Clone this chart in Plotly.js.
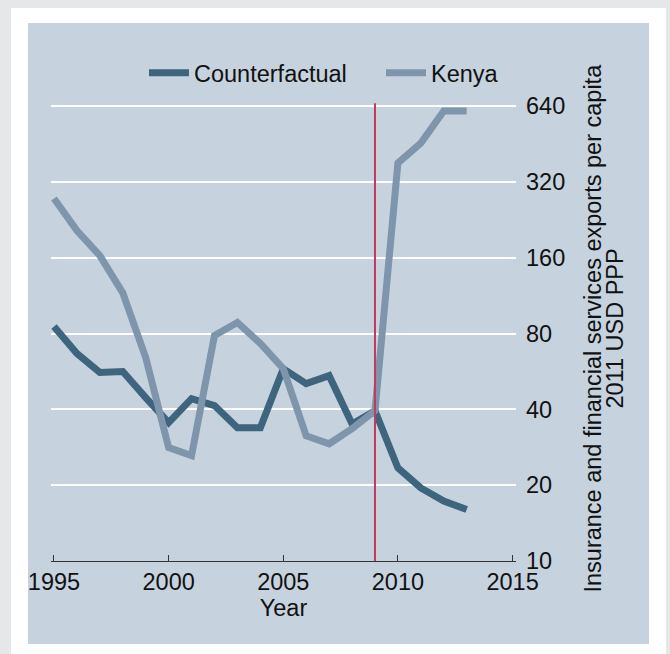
<!DOCTYPE html>
<html>
<head>
<meta charset="utf-8">
<script src="https://cdn.plot.ly/plotly-3.0.1.min.js"></script>
<style>
  html, body { margin: 0; padding: 0; width: 670px; height: 654px; overflow: hidden; background: #e6e7e9; }
  #frame { position: absolute; left: 11px; top: 8px; width: 655px; height: 646px; background: #ffffff; }
  #chart { position: absolute; left: 28px; top: 23px; width: 621px; height: 621px; }
</style>
</head>
<body>
<div id="frame"></div>
<div id="chart"></div>
<script>
// Insurance and financial services exports per capita, 2011 USD PPP
const years = [1995, 1996, 1997, 1998, 1999, 2000, 2001, 2002, 2003, 2004,
               2005, 2006, 2007, 2008, 2009, 2010, 2011, 2012, 2013];
const counterfactual = [85.3, 66.6, 56.0, 56.5, 44.5, 35.4, 44.1, 41.4, 33.8, 33.8,
                        58.0, 50.6, 54.4, 35.0, 39.5, 23.4, 19.5, 17.3, 16.0];
const kenya = [275, 205, 163, 116, 64.2, 28.2, 26.2, 78.5, 88.5, 73.0,
               58.0, 31.4, 29.2, 33.5, 39.5, 380, 456, 611, 611];
const xTickVals = [1995, 2000, 2005, 2010, 2015];
const yTickVals = [10, 20, 40, 80, 160, 320, 640];
const yTickText = ['10', '20', '40', '80', '160', '320', '640'];
const treatmentYear = 2009;

const FONT = 'Liberation Sans, Arial, Helvetica, sans-serif';
const FS = 23.5;
const TXT = '#111111';
const BG = '#c6d3df';

const traces = [
  {
    x: years, y: counterfactual, name: 'Counterfactual',
    type: 'scatter', mode: 'lines', legend: 'legend',
    line: { color: '#3f647e', width: 7 }
  },
  {
    x: years, y: kenya, name: 'Kenya',
    type: 'scatter', mode: 'lines', legend: 'legend2',
    line: { color: '#7f95ab', width: 7 }
  }
];

// one legend box per series so each entry sits on the same top row
function legendBox(xPos) {
  return {
    orientation: 'h', x: xPos, xanchor: 'left', y: 1.061, yanchor: 'middle',
    bgcolor: 'rgba(0,0,0,0)', borderwidth: 0, itemwidth: 40,
    font: { family: FONT, size: FS, color: TXT }
  };
}

const layout = {
  width: 621, height: 621,
  paper_bgcolor: BG, plot_bgcolor: BG,
  margin: { l: 23, r: 133, t: 78, b: 83, pad: 0 },
  font: { family: FONT, size: FS, color: TXT },
  showlegend: true,
  legend: legendBox((144 - 28 - 23) / 465),
  legend2: legendBox((381 - 28 - 23) / 465),
  xaxis: {
    range: [1994.87, 2015.15], tickvals: xTickVals, ticks: 'inside', ticklen: 6,
    tickwidth: 1, tickcolor: '#333333', showline: true, linecolor: '#333333', linewidth: 1,
    showgrid: false, zeroline: false, automargin: false, ticklabeloverflow: 'allow',
    tickfont: { family: FONT, size: FS, color: TXT },
    title: { text: 'Year', font: { family: FONT, size: FS, color: TXT }, standoff: 0 }
  },
  yaxis: {
    type: 'log', range: [1, 2.826], side: 'right',
    tickvals: yTickVals, ticktext: yTickText, ticks: '',
    showline: false, zeroline: false, showgrid: true, gridcolor: '#ffffff', gridwidth: 2,
    automargin: false, ticklabelstandoff: 9, ticklabeloverflow: 'allow',
    tickfont: { family: FONT, size: FS, color: TXT }
  },
  annotations: [
    {
      text: 'Insurance and financial services exports per capita',
      xref: 'paper', yref: 'paper', x: 1.1656, y: 0.5054, textangle: -90,
      xanchor: 'center', yanchor: 'middle', showarrow: false,
      font: { family: FONT, size: FS, color: TXT }
    },
    {
      text: '2011 USD PPP',
      xref: 'paper', yref: 'paper', x: 1.2129, y: 0.5054, textangle: -90,
      xanchor: 'center', yanchor: 'middle', showarrow: false,
      font: { family: FONT, size: FS, color: TXT }
    }
  ],
  shapes: [
    {
      type: 'line', xref: 'x', yref: 'paper', x0: treatmentYear, x1: treatmentYear,
      y0: 0, y1: 0.995, layer: 'above', line: { color: '#c33a5f', width: 2 }
    }
  ]
};

Plotly.newPlot('chart', traces, layout, { staticPlot: true, displayModeBar: false });
</script>
</body>
</html>
